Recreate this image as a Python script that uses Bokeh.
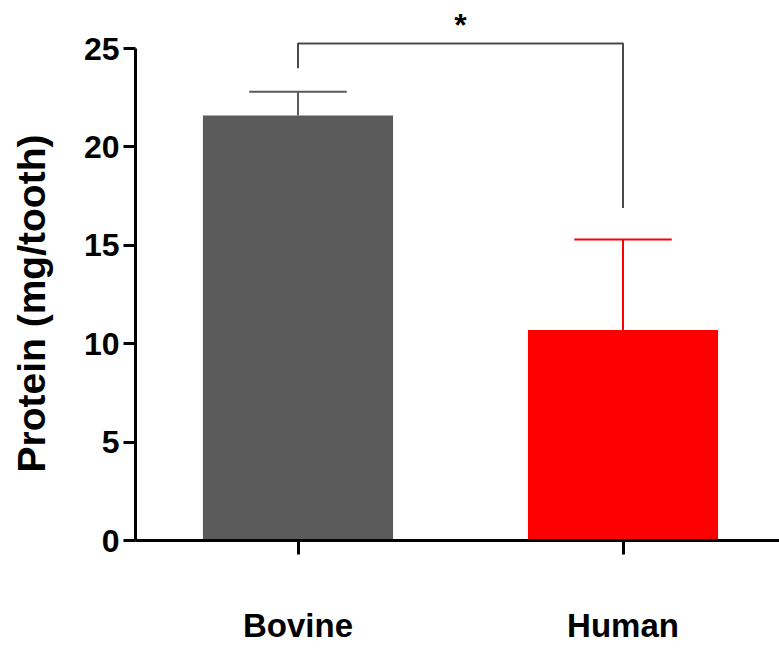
from bokeh.plotting import figure
from bokeh.models import FixedTicker, Label, ColumnDataSource, Range1d, Title
from bokeh.embed import file_html
from bokeh.resources import INLINE

# ---- data ----
categories = ["Bovine", "Human"]
positions = [1, 2]
means = [21.6, 10.7]
errors = [1.2, 4.6]
bar_colors = ["#5b5b5b", "#ff0000"]
y_ticks = [0, 5, 10, 15, 20, 25]

# significance bracket (data units)
bracket_top = 25.25
bracket_left_bottom = 24.0
bracket_right_bottom = 16.9
sig_text = "*"

FONT = "Liberation Sans"

p = figure(width=779, height=650, output_backend="svg", toolbar_location=None,
           x_range=Range1d(0.5, 2.4815), y_range=Range1d(0, 27.44),
           min_border_left=135, min_border_right=0, min_border_top=0,
           min_border_bottom=110)
p.outline_line_color = None
p.xgrid.visible = False
p.ygrid.visible = False
p.background_fill_color = "white"
p.border_fill_color = "white"

# bars
src = ColumnDataSource(dict(x=positions, top=means, color=bar_colors))
p.vbar(x="x", top="top", width=0.585, bottom=0, color="color", line_color=None, source=src)

# error bars (upper only)
cap_half = 0.15
err_top = [m + e for m, e in zip(means, errors)]
p.segment(x0=positions, y0=means, x1=positions, y1=err_top,
          line_color=bar_colors, line_width=2)
p.segment(x0=[x - cap_half for x in positions], y0=err_top,
          x1=[x + cap_half for x in positions], y1=err_top,
          line_color=bar_colors, line_width=2)

# significance bracket
p.line(x=[positions[0], positions[0], positions[1], positions[1]],
       y=[bracket_left_bottom, bracket_top, bracket_top, bracket_right_bottom],
       line_color="#4a4a4a", line_width=2)
p.add_layout(Label(x=(positions[0] + positions[1]) / 2, y=bracket_top + 0.95, text=sig_text,
                   text_font=FONT, text_font_style="bold", text_font_size="32px",
                   text_align="center", text_baseline="alphabetic", text_color="black"))

# axes
p.yaxis.ticker = FixedTicker(ticks=y_ticks)
p.yaxis.bounds = (0, 25)
p.yaxis.minor_tick_line_color = None
p.yaxis.major_tick_in = 0
p.yaxis.major_tick_out = 12
p.yaxis.axis_line_width = 3
p.yaxis.major_tick_line_width = 3
p.yaxis.major_label_text_font = FONT
p.yaxis.major_label_text_font_style = "bold"
p.yaxis.major_label_text_font_size = "32px"
p.yaxis.major_label_text_color = "black"
p.yaxis.major_label_standoff = 4

p.xaxis.ticker = FixedTicker(ticks=positions)
p.xaxis.major_label_overrides = {pos: c for pos, c in zip(positions, categories)}
p.xaxis.minor_tick_line_color = None
p.xaxis.major_tick_in = 0
p.xaxis.major_tick_out = 14
p.xaxis.axis_line_width = 3
p.xaxis.major_tick_line_width = 3
p.xaxis.major_label_text_font = FONT
p.xaxis.major_label_text_font_style = "bold"
p.xaxis.major_label_text_font_size = "33px"
p.xaxis.major_label_text_color = "black"
p.xaxis.major_label_standoff = 52

# y-axis title (padding on the axis-facing side pushes it outward)
ytitle = Title(text="Protein (mg/tooth)", align="left", vertical_align="bottom",
               offset=68, standoff=10, text_font=FONT, text_font_style="bold",
               text_font_size="39px", text_color="black",
               padding=dict(left=0, right=0, top=0, bottom=23))
p.add_layout(ytitle, "left")

open("out.html", "w").write(file_html(p, INLINE))
